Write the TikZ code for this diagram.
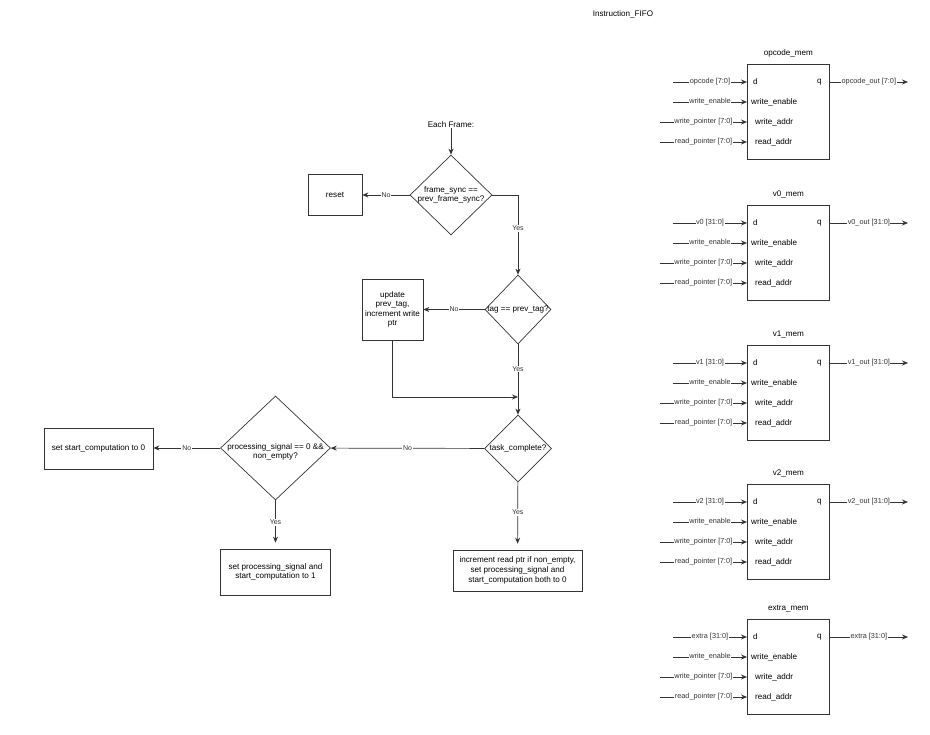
\documentclass[tikz,border=0pt]{standalone}
\usepackage{fontspec}
\setmainfont{Liberation Sans}
\usetikzlibrary{arrows.meta,shapes.geometric,positioning}
\definecolor{fcLine}{HTML}{333333}
\newcommand\fcfont{\fontsize{8.1pt}{9.6pt}\selectfont}
\newcommand\tagfont{\fontsize{7pt}{8pt}\selectfont}
\newcommand\sigfont{\fontsize{7.3pt}{8pt}\selectfont}
\tikzset{
  actbox/.style={draw=fcLine, line width=0.7pt, font=\fcfont, align=center, inner sep=1pt},
  decision/.style={draw=fcLine, line width=0.7pt, shape=diamond, inner sep=0pt},
  dtext/.style={font=\fcfont, align=center, inner sep=0pt},
  flow/.style={-{Stealth[length=6pt,width=5pt]}, line width=0.7pt, fcLine},
  edgetag/.style={font=\tagfont, fill=white, inner sep=1pt},
  membox/.style={draw=fcLine, line width=0.7pt, minimum width=82pt, minimum height=95pt, inner sep=0pt},
  memtitle/.style={font=\fcfont},
  porttxt/.style={font=\fcfont, inner sep=0pt, anchor=west},
  sigtag/.style={font=\sigfont, fill=white, inner sep=0.5pt},
  fifotitle/.style={font=\fcfont}
}
\begin{document}
\begin{tikzpicture}[x=1pt, y=-1pt]
  \useasboundingbox (0,0) rectangle (930,735);
  \node[fifotitle] (title) at (623,14) {Instruction\_FIFO};

  % flow chart
  \node[dtext] (frame) at (451,125) {Each Frame:};
  \node[decision, minimum width=82pt, minimum height=80pt] (sync) at (451,195) {};
  \node[dtext] (synctxt) at (sync) {frame\_sync ==\\prev\_frame\_sync?};
  \node[actbox, minimum width=54pt, minimum height=41pt] (reset) at (335,195) {reset};
  \node[decision, minimum width=66pt, minimum height=69pt] (tag) at (518,309.5) {};
  \node[dtext] (tagtxt) at (tag) {tag == prev\_tag?};
  \node[actbox, minimum width=61pt, minimum height=61pt] (upd) at (392.5,309.5) {update\\prev\_tag,\\increment write\\ptr};
  \node[decision, minimum width=67pt, minimum height=67pt] (done) at (518,448.5) {};
  \node[dtext] (donetxt) at (done) {task\_complete?};
  \node[decision, minimum width=110pt, minimum height=104pt] (ready) at (275.5,448) {};
  \node[dtext, yshift=-4pt] (readytxt) at (ready) {processing\_signal == 0 \&\&\\non\_empty?};
  \node[actbox, minimum width=109pt, minimum height=41pt] (stop) at (98.5,448.5) {set start\_computation to 0};
  \node[actbox, minimum width=110pt, minimum height=46pt] (start) at (275.5,572) {set processing\_signal and\\start\_computation to 1};
  \node[actbox, minimum width=129pt, minimum height=41pt] (next) at (517.5,570.5) {increment read ptr if non\_empty,\\set processing\_signal and\\start\_computation both to 0};
  \coordinate (join) at (518,397);

  \draw[flow] (frame) -- (sync);
  \draw[flow] (sync) -- node[edgetag]{No} (reset);
  \draw[flow] (sync.east) -| node[edgetag, pos=0.71]{Yes} (tag.north);
  \draw[flow] (tag.west) -- node[edgetag]{No} (tag.west -| upd.east);
  \draw[flow] (tag) -- node[edgetag, pos=0.35]{Yes} (done);
  \draw[flow] (upd.south) |- (join);
  \draw[flow] (done) -- node[edgetag]{No} (ready);
  \draw[flow] (ready.west) -- node[edgetag]{No} (ready.west -| stop.east);
  \draw[flow, shorten >=6pt] (ready) -- node[edgetag, pos=0.45]{Yes} (start);
  \draw[flow, shorten >=6pt] (done) -- node[edgetag, pos=0.45]{Yes} (next);

  % memories
  \foreach \nm/\ytop/\din/\dout in {
      opcode/64/{opcode [7:0]}/{opcode\_out [7:0]},
      v0/205/{v0 [31:0]}/{v0\_out [31:0]},
      v1/345/{v1 [31:0]}/{v1\_out [31:0]},
      v2/484/{v2 [31:0]}/{v2\_out [31:0]},
      extra/619/{extra [31:0]}/{extra [31:0]}}{
    \node[membox, anchor=north west] (mem\nm) at (747,\ytop) {};
    \node[memtitle, above=3pt of mem\nm] (title\nm) {\nm\_mem};
    \node[porttxt] (d\nm) at ([xshift=6pt, yshift=-18pt]mem\nm.north west) {d};
    \node[porttxt] (we\nm) at ([xshift=4pt, yshift=-38pt]mem\nm.north west) {write\_enable};
    \node[porttxt] (wa\nm) at ([xshift=8pt, yshift=-58pt]mem\nm.north west) {write\_addr};
    \node[porttxt] (ra\nm) at ([xshift=8pt, yshift=-78pt]mem\nm.north west) {read\_addr};
    \node[porttxt, anchor=east] (q\nm) at ([xshift=-8pt, yshift=-18pt]mem\nm.north east) {q};
    \coordinate (din\nm) at (673,\ytop+18);
    \coordinate (wen\nm) at (673,\ytop+38);
    \coordinate (wptr\nm) at (660,\ytop+58);
    \coordinate (rptr\nm) at (660,\ytop+78);
    \coordinate (dout\nm) at (908,\ytop+18);
    \draw[flow] (din\nm) -- node[sigtag]{\din} (din\nm -| mem\nm.west);
    \draw[flow] (wen\nm) -- node[sigtag]{write\_enable} (wen\nm -| mem\nm.west);
    \draw[flow] (wptr\nm) -- node[sigtag]{write\_pointer [7:0]} (wptr\nm -| mem\nm.west);
    \draw[flow] (rptr\nm) -- node[sigtag]{read\_pointer [7:0]} (rptr\nm -| mem\nm.west);
    \draw[flow] (mem\nm.east |- q\nm) -- node[sigtag]{\dout} (dout\nm);
  }
\end{tikzpicture}
\end{document}
